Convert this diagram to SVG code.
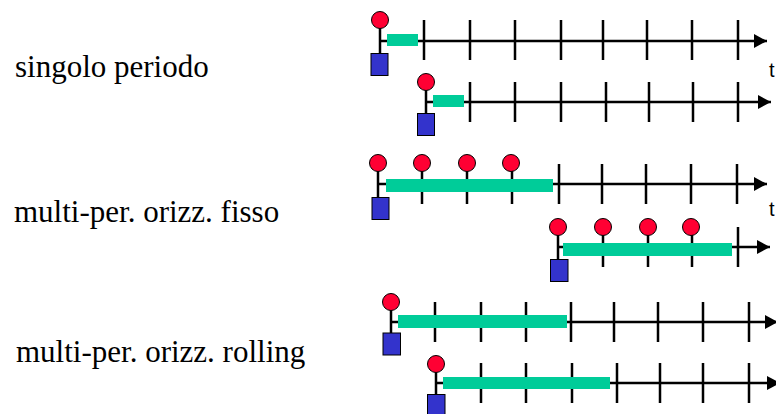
<svg xmlns="http://www.w3.org/2000/svg" width="776" height="414" viewBox="0 0 776 414">
  <style>
    .lbl { font-family: "Liberation Serif", "Times New Roman", serif; font-size: 31px; fill: #000; }
    .t { font-family: "Liberation Sans", Arial, sans-serif; font-size: 20px; fill: #000; }
    .axis { stroke: #000; stroke-width: 2.5; fill: none; marker-end: url(#arrow); }
    .tick { stroke: #000; stroke-width: 2.5; fill: none; }
    .stem { stroke: #000; stroke-width: 2.5; fill: none; }
    .bar { fill: #00CC99; }
    .dot { fill: #FF0033; stroke: #000; stroke-width: 1; }
    .box { fill: #3333CC; stroke: #000; stroke-width: 1; }
  </style>
  <defs>
    <marker id="arrow" markerUnits="userSpaceOnUse" markerWidth="14" markerHeight="16" refX="13" refY="7" orient="auto">
      <path d="M0,0 L13,7 L0,14 Z" fill="#000"/>
    </marker>
  </defs>

  <rect width="776" height="414" fill="#fff"/>

  <!-- row labels -->
  <g id="labels">
    <text class="lbl" x="15" y="77">singolo periodo</text>
    <text class="lbl" x="14" y="222">multi-per. orizz. fisso</text>
    <text class="lbl" x="16" y="362">multi-per. orizz. rolling</text>
  </g>

  <!-- single period: first horizon -->
  <g id="single-1">
    <line class="axis" x1="380" y1="41" x2="767" y2="41"/>
    <path class="tick" d="M424,20V60 M470,20V60 M515,20V60 M561,20V60 M603,20V60 M647,20V60 M692,20V60 M738,20V60"/>
    <rect class="bar" x="387" y="34" width="31" height="12"/>
    <line class="stem" x1="380" y1="28" x2="380" y2="54"/>
    <circle class="dot" cx="380" cy="20" r="8.5"/>
    <rect class="box" x="371" y="53.5" width="17" height="22"/>
    <text class="t" x="769" y="77">t</text>
  </g>

  <!-- single period: next horizon -->
  <g id="single-2">
    <line class="axis" x1="426" y1="102" x2="771" y2="102"/>
    <path class="tick" d="M470,82V122 M515,82V122 M561,82V122 M606,82V122 M649,82V122 M693,82V122 M738,82V122"/>
    <rect class="bar" x="433" y="95" width="31" height="12"/>
    <line class="stem" x1="426" y1="90" x2="426" y2="114"/>
    <circle class="dot" cx="426" cy="82" r="8.5"/>
    <rect class="box" x="417.5" y="113.5" width="17" height="22"/>
  </g>

  <!-- fixed horizon: first block -->
  <g id="fixed-1">
    <line class="axis" x1="378" y1="184" x2="767" y2="184"/>
    <path class="tick" d="M422,171V204 M467,171V204 M512,171V204 M559,164V204 M602,164V204 M646,164V204 M691,164V204 M737,164V204"/>
    <rect class="bar" x="386" y="179" width="167" height="13"/>
    <line class="stem" x1="378" y1="171" x2="378" y2="198"/>
    <circle class="dot" cx="378" cy="163" r="8.5"/>
    <circle class="dot" cx="422" cy="163" r="8.5"/>
    <circle class="dot" cx="467" cy="163" r="8.5"/>
    <circle class="dot" cx="511" cy="163" r="8.5"/>
    <rect class="box" x="372" y="197.5" width="17" height="22"/>
    <text class="t" x="769" y="216">t</text>
  </g>

  <!-- fixed horizon: second block -->
  <g id="fixed-2">
    <line class="axis" x1="558" y1="247" x2="770" y2="247"/>
    <path class="tick" d="M603,235V267 M648,235V267 M692,235V267 M738,227V267"/>
    <rect class="bar" x="563" y="243" width="169" height="13"/>
    <line class="stem" x1="558" y1="235" x2="558" y2="260"/>
    <circle class="dot" cx="558" cy="227" r="8.5"/>
    <circle class="dot" cx="603" cy="227" r="8.5"/>
    <circle class="dot" cx="648" cy="227" r="8.5"/>
    <circle class="dot" cx="691" cy="227" r="8.5"/>
    <rect class="box" x="550.5" y="259.5" width="17.5" height="22"/>
  </g>

  <!-- rolling horizon: first step -->
  <g id="rolling-1">
    <line class="axis" x1="391" y1="322" x2="778" y2="322"/>
    <path class="tick" d="M435,302V342 M481,302V342 M526,302V342 M571,302V342 M614,302V342 M658,302V342 M703,302V342 M749,302V342"/>
    <rect class="bar" x="398" y="315" width="169" height="13"/>
    <line class="stem" x1="391" y1="310" x2="391" y2="334"/>
    <circle class="dot" cx="391" cy="302" r="8.5"/>
    <rect class="box" x="383" y="333" width="17.5" height="22"/>
  </g>

  <!-- rolling horizon: next step -->
  <g id="rolling-2">
    <line class="axis" x1="436" y1="383" x2="780" y2="383"/>
    <path class="tick" d="M481,363V403 M526,363V403 M572,363V403 M617,363V403 M660,363V403 M703,363V403 M749,363V403"/>
    <rect class="bar" x="443" y="377" width="167" height="12"/>
    <line class="stem" x1="436" y1="371" x2="436" y2="395"/>
    <circle class="dot" cx="436" cy="364" r="8.5"/>
    <rect class="box" x="427.5" y="394.5" width="17.5" height="22"/>
  </g>
</svg>
